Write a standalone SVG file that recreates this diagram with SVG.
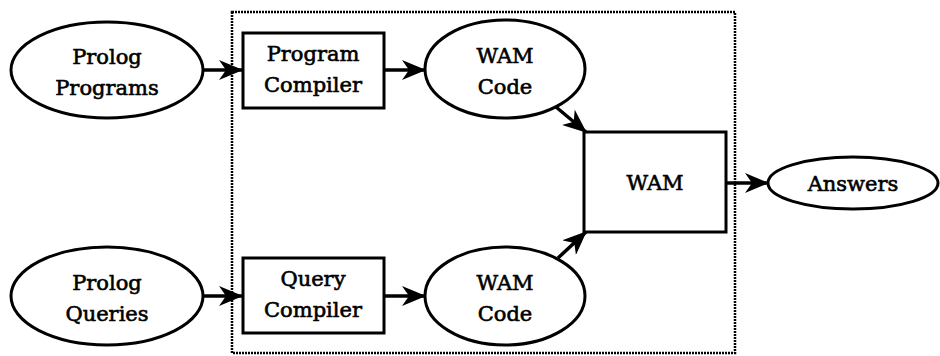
<svg xmlns="http://www.w3.org/2000/svg" width="940" height="356" viewBox="0 0 940 356">
<defs>
<style>
.n{fill:#fff;stroke:#000;stroke-width:3}
.t{font-family:'DejaVu Serif',serif;font-size:21px;fill:#000;stroke:#000;stroke-width:0.6;text-anchor:middle}
.c{stroke:#000;stroke-width:3.5;fill:none}
.frame{fill:none;stroke:#000;stroke-width:2.5;stroke-dasharray:2 1}
</style>
<marker id="ah" viewBox="0 0 24 20" refX="23" refY="10" markerWidth="24" markerHeight="20" markerUnits="userSpaceOnUse" orient="auto">
<path d="M0,0 L24,10 L0,20 L7,10 Z" fill="#000"/>
</marker>
</defs>
<rect width="940" height="356" fill="#fff"/>
<rect id="frame" class="frame" x="232" y="12" width="503" height="341"/>
<g id="prolog-programs">
<ellipse class="n" cx="107" cy="70" rx="96" ry="48"/>
<text class="t" x="107" y="64">Prolog</text>
<text class="t" x="107" y="95">Programs</text>
</g>
<g id="program-compiler">
<rect class="n" x="243" y="33" width="141" height="75"/>
<text class="t" x="313" y="61">Program</text>
<text class="t" x="313" y="92">Compiler</text>
</g>
<g id="wam-code-1">
<ellipse class="n" cx="505" cy="69" rx="80" ry="49"/>
<text class="t" x="505" y="63">WAM</text>
<text class="t" x="505" y="94">Code</text>
</g>
<g id="prolog-queries">
<ellipse class="n" cx="107" cy="296" rx="96" ry="49"/>
<text class="t" x="107" y="290">Prolog</text>
<text class="t" x="107" y="321">Queries</text>
</g>
<g id="query-compiler">
<rect class="n" x="243" y="258" width="141" height="75"/>
<text class="t" x="313" y="286">Query</text>
<text class="t" x="313" y="317">Compiler</text>
</g>
<g id="wam-code-2">
<ellipse class="n" cx="505" cy="296" rx="80" ry="49"/>
<text class="t" x="505" y="290">WAM</text>
<text class="t" x="505" y="321">Code</text>
</g>
<g id="wam">
<rect class="n" x="584" y="132" width="142" height="100"/>
<text class="t" x="655" y="190">WAM</text>
</g>
<g id="answers">
<ellipse class="n" cx="853" cy="183" rx="85" ry="26"/>
<text class="t" x="853" y="191">Answers</text>
</g>
<g id="connectors">
<line class="c" x1="203" y1="70" x2="242" y2="70" marker-end="url(#ah)"/>
<line class="c" x1="384" y1="70" x2="425" y2="70" marker-end="url(#ah)"/>
<line class="c" x1="556" y1="107" x2="586" y2="132" marker-end="url(#ah)"/>
<line class="c" x1="203" y1="296" x2="242" y2="296" marker-end="url(#ah)"/>
<line class="c" x1="384" y1="296" x2="425" y2="296" marker-end="url(#ah)"/>
<line class="c" x1="558" y1="258" x2="586" y2="232" marker-end="url(#ah)"/>
<line class="c" x1="726" y1="183" x2="768" y2="183" marker-end="url(#ah)"/>
</g>
</svg>
